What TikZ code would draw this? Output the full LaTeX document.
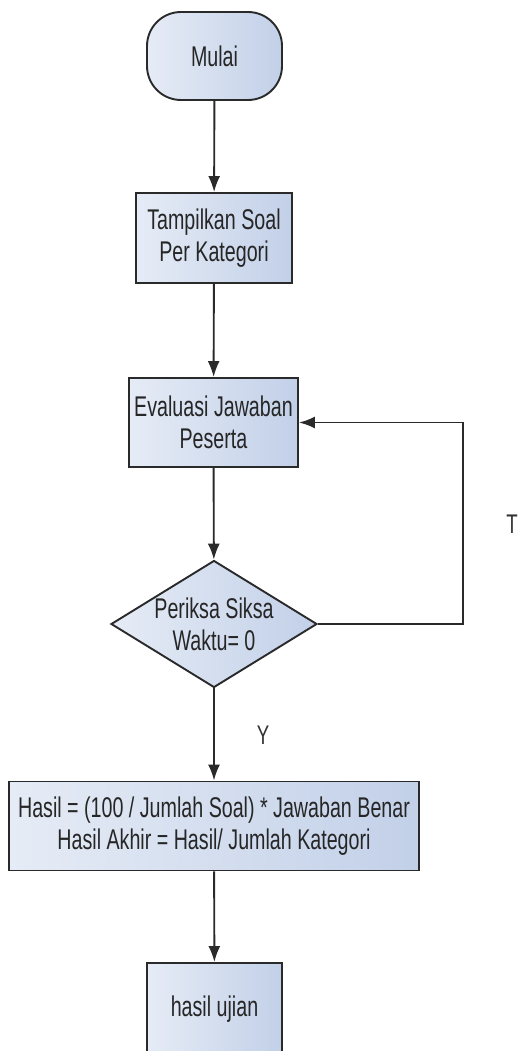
\documentclass[tikz,border=0pt]{standalone}
\usepackage{fontspec}
\setmainfont{Liberation Sans}[FakeStretch=0.69]
\usetikzlibrary{arrows.meta,shapes.geometric}
\definecolor{edge}{HTML}{2A2A2A}
\definecolor{fillA}{HTML}{E6ECF6}
\definecolor{fillB}{HTML}{C2D0E8}
\tikzset{
  base/.style={draw=edge, line width=1.9pt, left color=fillA, right color=fillB,
    inner sep=0pt, align=center, text=black!85,
    font=\fontsize{28.5}{32}\selectfont},
  terminal/.style={base, rectangle, rounded corners=34pt},
  process/.style={base, rectangle},
  decision/.style={base, diamond, aspect=1.62},
  flow/.style={draw=edge, line width=1.9pt, -{Latex[length=16pt,width=12pt]}},
  lbl/.style={font=\fontsize{27}{30}\selectfont, text=black!80}
}
\begin{document}
\begin{tikzpicture}[x=1pt,y=-1pt]
  \useasboundingbox (0,0) rectangle (520,1051);
  \node[terminal, minimum width=135pt, minimum height=88pt] (mulai) at (214.5,56) {Mulai};
  \node[process, minimum width=156pt, minimum height=90pt] (tampil) at (214,238) {Tampilkan Soal\\Per Kategori};
  \node[process, minimum width=169pt, minimum height=89pt] (eval) at (213.5,422.5) {Evaluasi Jawaban\\Peserta};
  \node[decision, minimum width=206pt, minimum height=127pt] (cek) at (214,624) {Periksa Siksa\\Waktu= 0};
  \node[process, minimum width=410pt, minimum height=89pt] (hasil) at (214,826) {Hasil = (100 / Jumlah Soal) * Jawaban Benar\\Hasil Akhir = Hasil/ Jumlah Kategori};
  \node[process, minimum width=135pt, minimum height=92pt] (ujian) at (214.5,1009) {hasil ujian};

  \node[lbl] (ya) at (263,735) {Y};
  \node[lbl] (tidak) at (512,524) {T};

  \coordinate (loopA) at (463,624);
  \coordinate (loopB) at (463,422.5);

  \draw[flow] (mulai) -- (tampil);
  \draw[flow] (tampil) -- (eval);
  \draw[flow] (eval) -- (cek);
  \draw[flow] (cek) -- (hasil);
  \draw[flow] (hasil) -- (ujian);
  \draw[flow] (cek.east) -- (loopA) -- (loopB) -- (eval.east);
\end{tikzpicture}
\end{document}
